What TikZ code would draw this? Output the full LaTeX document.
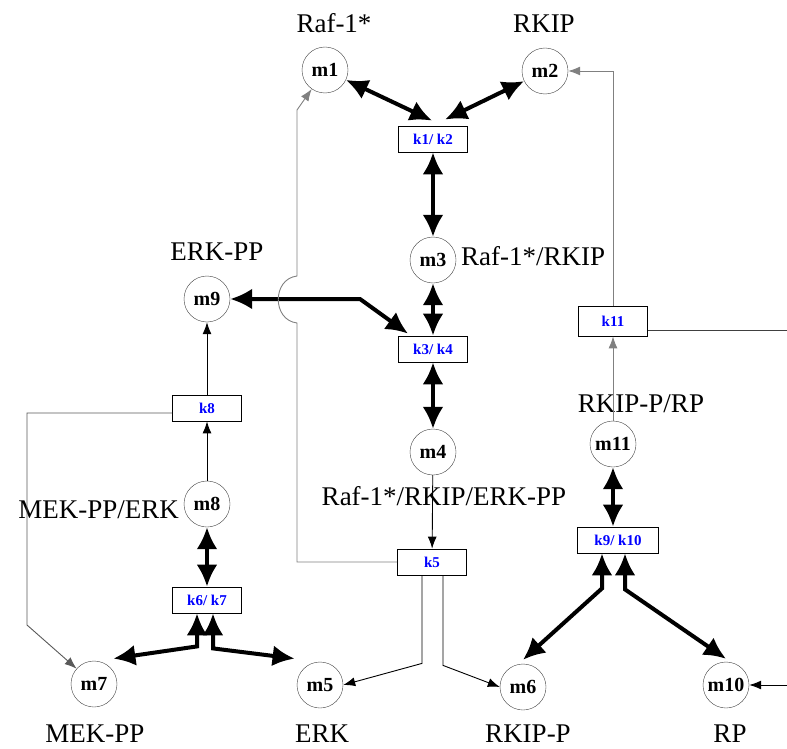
\documentclass[tikz,border=0pt]{standalone}
\usepackage{fontspec}
\setmainfont{Liberation Serif}
\usetikzlibrary{arrows.meta}

\begin{document}
\begin{tikzpicture}[x=1pt,y=-1pt,>={Latex[length=12pt,width=9pt]}]
\tikzset{
    mol/.style={%
        draw=black!75, thin,
        circle,
        minimum size=46pt,
        inner sep=0pt,
        font=\fontsize{20}{20}\selectfont\bfseries
        },
    rxn/.style={%
        draw=black, thick,
        rectangle,
        minimum height=26pt,
        minimum width=69pt,
        inner sep=0pt,
        text=blue,
        font=\fontsize{15}{15}\selectfont\bfseries
        },
    lbl/.style={anchor=base, inner sep=0pt, font=\fontsize{27}{27}\selectfont},
    big/.style={<->, line width=4pt, >={Latex[length=22pt,width=21pt]}},
    thinarr/.style={->, line width=0.9pt},
    fb/.style={->, line width=0.9pt, draw=gray},
}
\useasboundingbox (0,0) rectangle (787,749);
%%%SPECIES
\node[mol] (m1) at (325,70) {m1};
\node[mol] (m2) at (545,71) {m2};
\node[mol] (m3) at (433,260) {m3};
\node[mol] (m4) at (433,452) {m4};
\node[mol] (m5) at (320,685) {m5};
\node[mol] (m6) at (523,687) {m6};
\node[mol] (m7) at (94,684) {m7};
\node[mol] (m8) at (207,504) {m8};
\node[mol] (m9) at (207,299) {m9};
\node[mol] (m10) at (726,685) {m10};
\node[mol] (m11) at (613,444) {m11};
%%%REACTIONS
\node[rxn] (k12) at (433,139) {k1/ k2};
\node[rxn] (k34) at (433,349) {k3/ k4};
\node[rxn] (k5) at (432,562) {k5};
\node[rxn] (k67) at (207,600) {k6/ k7};
\node[rxn] (k8) at (207,408) {k8};
\node[rxn, minimum height=30pt] (k11) at (613,321) {k11};
\node[rxn, minimum width=81pt] (k910) at (618,540) {k9/ k10};
%%%NAMES
\node[lbl] (n1) at (334,33) {Raf-1*};
\node[lbl] (n2) at (544,33) {RKIP};
\node[lbl, anchor=base west] (n3) at (461,265) {Raf-1*/RKIP};
\node[lbl] (n9) at (217,260) {ERK-PP};
\node[lbl] (n11) at (641,412) {RKIP-P/RP};
\node[lbl, anchor=base east] (n8) at (179,518) {MEK-PP/ERK};
\node[lbl] (n4) at (444,505) {Raf-1*/RKIP/ERK-PP};
\node[lbl] (n7) at (95,742) {MEK-PP};
\node[lbl] (n5) at (322,742) {ERK};
\node[lbl] (n6) at (528,742) {RKIP-P};
\node[lbl] (n10) at (730,742) {RP};
%%%REVERSIBLE STEPS
\draw[big] (m1) -- ([xshift=-1pt,yshift=5pt]k12.north);
\draw[big] (m2) -- ([xshift=12pt,yshift=6pt]k12.north);
\draw[big] (k12) -- (m3);
\draw[big] (m3) -- (k34);
\draw[big] (k34) -- (m4);
\draw[big] (m9) -- (360,299) -- ([xshift=-25pt,yshift=2pt]k34.north);
\draw[big] (m8) -- (k67);
\draw[big] ([xshift=-10pt]k67.south) -- ++(0,33) -- ([xshift=3pt,yshift=9pt]m7.north east);
\draw[big] ([xshift=6pt]k67.south) -- ++(0,35) -- ([xshift=-9pt,yshift=10pt]m5.north west);
\draw[big] (m11) -- (m11 |- k910.north);
\draw[big] ([xshift=-16pt]k910.south) -- ++(0,35) -- ([yshift=4pt]m6.north);
\draw[big] ([xshift=7pt]k910.south) -- ++(0,36) -- ([yshift=3pt]m10.north);
%%%ONE-WAY STEPS
\draw[thinarr] (k8) -- (m9);
\draw[thinarr] (m8) -- (k8);
\draw[thinarr] (m4) -- (k5);
\draw[thinarr] ([xshift=-10pt]k5.south) -- ++(0,88) -- (m5.east);
\draw[thinarr] ([xshift=11pt]k5.south) -- ++(0,90) -- (m6.west);
\draw[fb, draw=black!65] ([yshift=-5pt]k8.west) -| (27,625) -- (m7);
\draw[fb] (k5.west) -| (297,323) .. controls (272,320) and (272,279) .. (297,276) -- (297,110) -- (m1);
\draw[fb] (m11) -- (k11);
\draw[fb] (k11) |- (m2);
\coordinate (out11) at (787,330);
\draw[line width=0.9pt, black!75] ([yshift=-9pt]k11.east) -- (out11);
\coordinate (in10) at (787,685);
\draw[thinarr] (in10) -- (m10);
\end{tikzpicture}
\end{document}
